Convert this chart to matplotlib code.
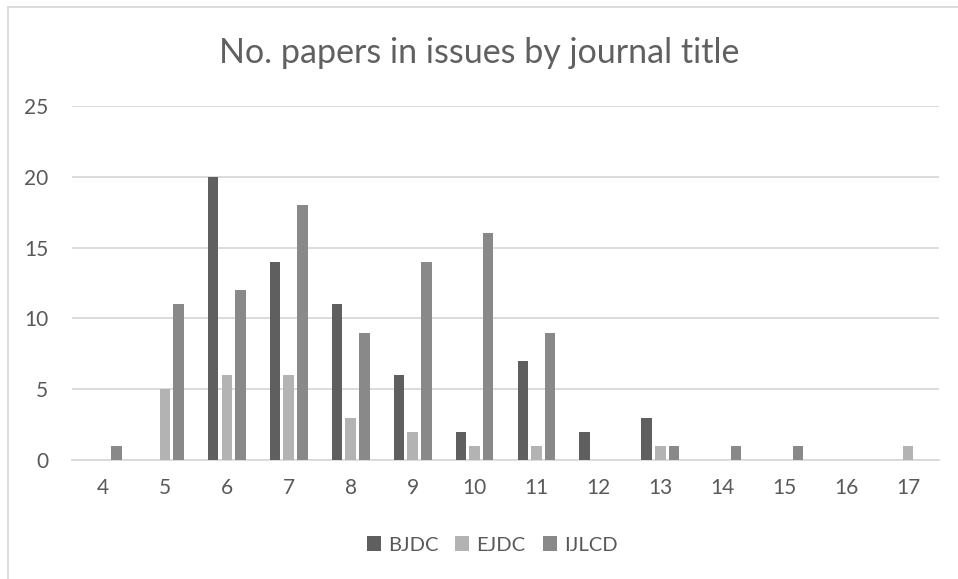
import numpy as np
import matplotlib.pyplot as plt
from matplotlib.lines import Line2D

plt.rcParams['font.family'] = ['Lato', 'DejaVu Sans']

# issue numbers on the x axis
issues = ['4', '5', '6', '7', '8', '9', '10', '11', '12', '13', '14', '15', '16', '17']
# papers per issue, one list per journal
bjdc = [0, 0, 20, 14, 11, 6, 2, 7, 2, 3, 0, 0, 0, 0]
ejdc = [0, 5, 6, 6, 3, 2, 1, 1, 0, 1, 0, 0, 0, 1]
ijlcd = [1, 11, 12, 18, 9, 14, 16, 9, 0, 1, 1, 1, 0, 0]

series = [('BJDC', bjdc, '#5f5f5f'), ('EJDC', ejdc, '#b3b3b3'), ('IJLCD', ijlcd, '#898989')]
text_col = '#595959'

fig = plt.figure(figsize=(9.58, 5.79), dpi=100)
ax = fig.add_axes([72/958, 1 - 460/579, (939 - 72)/958, (460 - 106)/579])

x = np.arange(len(issues))
step = 0.221
width = 0.17
for i, (name, vals, col) in enumerate(series):
    ax.bar(x + (i - 1) * step, vals, width=width, color=col, label=name, zorder=3)

ax.set_xlim(-0.5, len(issues) - 0.5)
ax.set_ylim(0, 25)
ax.set_yticks(range(0, 26, 5))
ax.set_xticks(x)
ax.set_xticklabels(issues)
ax.yaxis.grid(True, color='#d9d9d9', linewidth=1.3, zorder=0)
for s in ['top', 'right', 'left']:
    ax.spines[s].set_visible(False)
ax.spines['bottom'].set_color('#d9d9d9')
ax.spines['bottom'].set_linewidth(1.3)
ax.tick_params(axis='both', length=0, labelsize=15, colors=text_col)
ax.tick_params(axis='x', pad=13)
ax.tick_params(axis='y', pad=17)

fig.text(0.5, 1 - 53/579, 'No. papers in issues by journal title', ha='center', va='center',
         fontsize=24.5, color='#606060', fontweight='normal')

fig.legend(loc='center', bbox_to_anchor=(492/958, 1 - 545/579), ncol=3, frameon=False,
           fontsize=14.5, labelcolor=text_col, handlelength=0.7, handleheight=0.7,
           handletextpad=0.35, columnspacing=0.85)

# chart frame (only top and left edges visible in the crop)
fig.add_artist(Line2D([8/958, 8/958], [0, 1 - 7/579], color='#d9d9d9', linewidth=1.3))
fig.add_artist(Line2D([8/958, 1], [1 - 7/579, 1 - 7/579], color='#d9d9d9', linewidth=1.3))

plt.savefig('out.png')
